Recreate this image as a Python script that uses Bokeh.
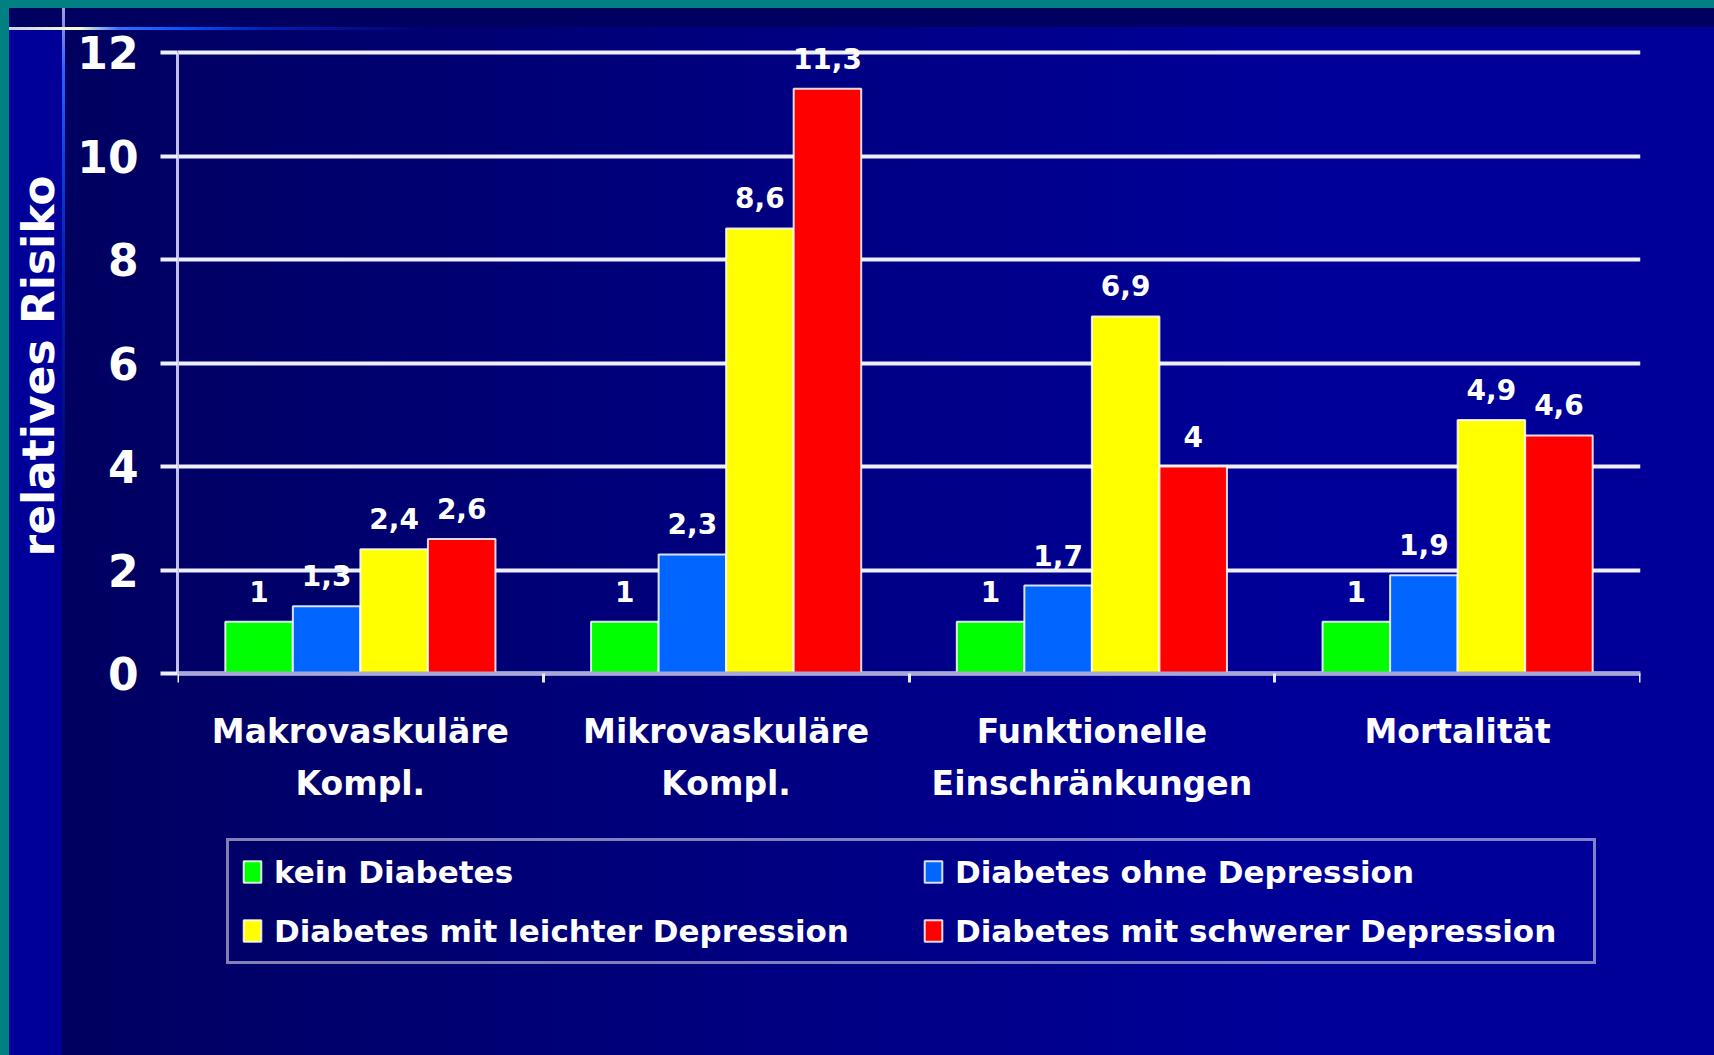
from bokeh.plotting import figure
from bokeh.models import (ColumnDataSource, FixedTicker, LinearAxis, Legend, LegendItem,
                          LabelSet, Range1d, Grid, CustomJSTickFormatter, Title)
from bokeh.core.properties import value
from bokeh.transform import dodge
from bokeh.embed import file_html
from bokeh.resources import INLINE

# ---------------- data ----------------
cat_line1 = ["Makrovaskuläre", "Mikrovaskuläre", "Funktionelle", "Mortalität"]
cat_line2 = ["Kompl.", "Kompl.", "Einschränkungen", ""]
series_names = ["kein Diabetes", "Diabetes ohne Depression",
                "Diabetes mit leichter Depression", "Diabetes mit schwerer Depression"]
kein_diabetes = [1, 1, 1, 1]
ohne_depression = [1.3, 2.3, 1.7, 1.9]
leichte_depression = [2.4, 8.6, 6.9, 4.9]
schwere_depression = [2.6, 11.3, 4, 4.6]
y_ticks = [0, 2, 4, 6, 8, 10, 12]
y_title = "relatives Risiko"

series_values = [kein_diabetes, ohne_depression, leichte_depression, schwere_depression]
series_colors = ["#00ff00", "#0066ff", "#ffff00", "#ff0000"]
offsets = [-0.277, -0.0923, 0.0923, 0.277]
bar_w = 0.1846

FONT = "DejaVu Sans"

def fmt(v):
    return f"{v:g}".replace(".", ",")

xpos = [i + 0.5 for i in range(len(cat_line1))]

# layout geometry (pixels on the page)
W, H = 1714, 1055
FRAME_L, FRAME_R, FRAME_T, FRAME_B = 177, 1640, 30, 1055
Y0_PX, Y12_PX = 673, 52
ppu = (Y0_PX - Y12_PX) / 12.0
y_lo = -(FRAME_B - Y0_PX) / ppu
y_hi = 12 + (Y12_PX - FRAME_T) / ppu

p = figure(width=W, height=H, x_range=Range1d(0, len(cat_line1)), y_range=Range1d(y_lo, y_hi),
           output_backend="svg", toolbar_location=None, x_axis_type=None, y_axis_type=None,
           min_border_left=FRAME_L, min_border_right=W - FRAME_R,
           min_border_top=FRAME_T, min_border_bottom=H - FRAME_B)
p.border_fill_alpha = 0
p.background_fill_alpha = 0
p.outline_line_color = None

# slide-template background (teal border, dark band, blue gradient)
p.styles = {"background": (
    "linear-gradient(to bottom, #008080 0px, #008080 8px, transparent 8px),"
    "linear-gradient(to right, #008080 0px, #008080 9px, transparent 9px),"
    "linear-gradient(to right, #d0d0f0 0px, #ffffc8 70px, #3070ff 110px, #0050ff 180px, #0020b0 260px, rgba(0,0,153,0) 420px) 9px 27px / 420px 3px no-repeat,"
    "linear-gradient(to bottom, #a0a0e0 0px, #3060ff 60px, #1040e0 150px, #0020b0 260px, rgba(0,0,153,0) 520px) 62px 8px / 3px 520px no-repeat,"
    "linear-gradient(#000060, #000060) 0px 8px / 100% 19px no-repeat,"
    "linear-gradient(#000099, #000099) 9px 0px / 53px 100% no-repeat,"
    "linear-gradient(to right, #000060 63px, #000099 1300px)"
)}

# ---------------- axes ----------------
yaxis = LinearAxis(ticker=FixedTicker(ticks=y_ticks, minor_ticks=[]), bounds=(0, 12))
yaxis.axis_line_color = "#c0c0e8"
yaxis.axis_line_width = 3
yaxis.major_tick_out = 17
yaxis.major_tick_in = 0
yaxis.major_tick_line_color = "#eeeeff"
yaxis.major_tick_line_width = 4
yaxis.major_label_text_font = FONT
yaxis.major_label_text_font_style = "bold"
yaxis.major_label_text_font_size = "44px"
yaxis.major_label_text_color = "white"
yaxis.major_label_standoff = 22
p.add_layout(yaxis, "left")

ytitle = Title(text=y_title, align="right", vertical_align="middle", offset=145, standoff=20,
               text_font=FONT, text_font_style="bold", text_font_size="44px", text_color="white")
p.add_layout(ytitle, "left")

grid = Grid(dimension=1, ticker=yaxis.ticker)
grid.grid_line_color = "#eeeeff"
grid.grid_line_width = 4
p.add_layout(grid)

xaxis1 = LinearAxis(ticker=FixedTicker(ticks=xpos, minor_ticks=list(range(len(cat_line1) + 1))),
                    formatter=CustomJSTickFormatter(args=dict(labels=cat_line1),
                                                    code="return labels[Math.floor(tick)] || ''"),
                    fixed_location=0)
xaxis1.axis_line_color = "#a8a8d8"
xaxis1.axis_line_width = 4
xaxis1.major_tick_line_color = None
xaxis1.major_tick_out = 0
xaxis1.major_tick_in = 0
xaxis1.minor_tick_out = 9
xaxis1.minor_tick_in = 0
xaxis1.minor_tick_line_color = "#e8e8ff"
xaxis1.minor_tick_line_width = 3
xaxis1.major_label_text_font = FONT
xaxis1.major_label_text_font_style = "bold"
xaxis1.major_label_text_font_size = "33px"
xaxis1.major_label_text_color = "white"
xaxis1.major_label_standoff = 29
p.add_layout(xaxis1, "below")

xaxis2 = LinearAxis(ticker=FixedTicker(ticks=xpos, minor_ticks=[]),
                    formatter=CustomJSTickFormatter(args=dict(labels=cat_line2),
                                                    code="return labels[Math.floor(tick)] || ''"),
                    fixed_location=0)
xaxis2.axis_line_color = None
xaxis2.major_tick_line_color = None
xaxis2.minor_tick_line_color = None
xaxis2.major_tick_out = 0
xaxis2.major_tick_in = 0
xaxis2.major_label_text_font = FONT
xaxis2.major_label_text_font_style = "bold"
xaxis2.major_label_text_font_size = "33px"
xaxis2.major_label_text_color = "white"
xaxis2.major_label_standoff = 90
p.add_layout(xaxis2, "below")

# ---------------- bars ----------------
items = []
for name, vals, color, off in zip(series_names, series_values, series_colors, offsets):
    src = ColumnDataSource(dict(x=xpos, top=vals, label=[fmt(v) for v in vals]))
    r = p.vbar(x=dodge("x", off), top="top", bottom=0, width=bar_w, source=src,
               fill_color=color, line_color="white", line_width=2, line_alpha=0.85)
    items.append(LegendItem(label=name, renderers=[r]))
    p.add_layout(LabelSet(x=dodge("x", off), y="top", text="label", source=src,
                          text_align="center", text_baseline="alphabetic", y_offset=20,
                          text_font=value(FONT), text_font_style="bold", text_font_size="28px",
                          text_color="white"))

# legend filled column by column: order so that rows read as in the original
legend_items = [items[0], items[2], items[1], items[3]]
legend = Legend(items=legend_items, location=(226 - FRAME_L, FRAME_B - 964), ncols=2)
legend.margin = 0
legend.padding = 12
legend.spacing = 22
legend.glyph_width = 22
legend.glyph_height = 27
legend.label_standoff = 11
legend.label_height = 37
legend.label_width = 626
legend.label_text_font = FONT
legend.label_text_font_style = "bold"
legend.label_text_font_size = "31px"
legend.label_text_color = "white"
legend.label_text_baseline = "middle"
legend.border_line_color = "white"
legend.border_line_width = 3
legend.background_fill_alpha = 0
p.add_layout(legend, "center")

open("out.html", "w").write(file_html(p, INLINE))
